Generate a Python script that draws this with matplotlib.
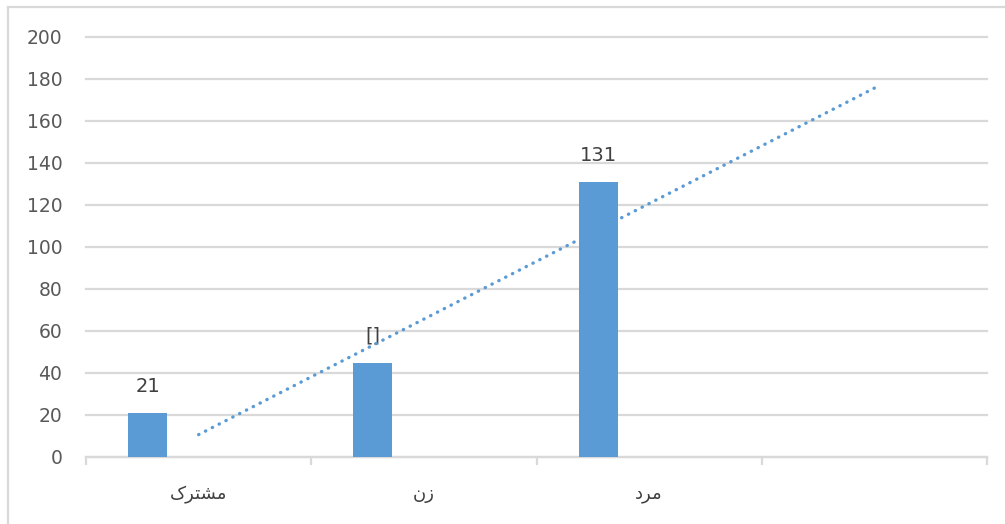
import numpy as np
import matplotlib
matplotlib.use("Agg")
import matplotlib.pyplot as plt
from matplotlib.lines import Line2D

# category labels (Persian), written as shaped presentation forms in display order
categories = ["\uFB8E\uFEAE\uFE98\uFEB8\uFEE3",  # مشترک
              "\uFEE5\uFEAF",                    # زن
              "\uFEA9\uFEAE\uFEE3",              # مرد
              ""]
values = [21, 45, 131]
labels = ["21", "[]", "131"]
y_ticks = [0, 20, 40, 60, 80, 100, 120, 140, 160, 180, 200]

bar_color = "#5b9bd5"
grid_color = "#d9d9d9"
text_color = "#595959"

fig = plt.figure(figsize=(10.05, 5.24), dpi=100)
ax = fig.add_axes([86 / 1005, 1 - 457 / 524, (987 - 86) / 1005, (457 - 37) / 524])

n_slots = len(categories)
centers = np.arange(n_slots) + 0.5
bar_w = 39 / 225
offset = -51 / 225

x_bars = centers[:len(values)] + offset
ax.bar(x_bars, values, width=bar_w, color=bar_color, zorder=3)

for xb, v, lab in zip(x_bars, values, labels):
    ax.text(xb, v + 8, lab, ha="center", va="bottom", fontsize=14,
            color="#404040", family="DejaVu Sans", zorder=4)

# linear trendline, forecast forward one period
xs = np.arange(1, len(values) + 1)
slope, icpt = np.polyfit(xs, values, 1)
xt = np.array([1, n_slots])
yt = slope * xt + icpt
ax.plot(centers[xt - 1], yt, linestyle=(0, (0.1, 2.2)), dash_capstyle="round",
        color=bar_color, linewidth=2.4, zorder=4)

ax.set_xlim(0, n_slots)
ax.set_ylim(0, 200)
ax.set_yticks(y_ticks)
ax.yaxis.grid(True, color=grid_color, linewidth=1.6, zorder=0)
ax.set_axisbelow(True)
for gl in ax.get_ygridlines():
    gl.set_clip_on(False)

for s in ["top", "right", "left"]:
    ax.spines[s].set_visible(False)
ax.spines["bottom"].set_color(grid_color)
ax.spines["bottom"].set_linewidth(1.6)

ax.set_xticks(np.arange(n_slots + 1))
ax.set_xticklabels([])
ax.set_xticks(centers, minor=True)
ax.set_xticklabels(categories, minor=True, fontsize=13, color="#404040",
                   family="DejaVu Sans")
ax.tick_params(axis="x", which="major", length=6, width=1.6, color=grid_color)
ax.tick_params(axis="x", which="minor", length=0, pad=20)
ax.tick_params(axis="y", length=0, pad=17, labelsize=13.5, labelcolor=text_color)

# chart frame (only top and left visible in the crop)
fig.add_artist(Line2D([8 / 1005, 8 / 1005], [0, 1 - 7 / 524], color=grid_color,
                      linewidth=1.6, transform=fig.transFigure))
fig.add_artist(Line2D([8 / 1005, 1], [1 - 7 / 524, 1 - 7 / 524], color=grid_color,
                      linewidth=1.6, transform=fig.transFigure))

fig.savefig("out.png", dpi=100)
